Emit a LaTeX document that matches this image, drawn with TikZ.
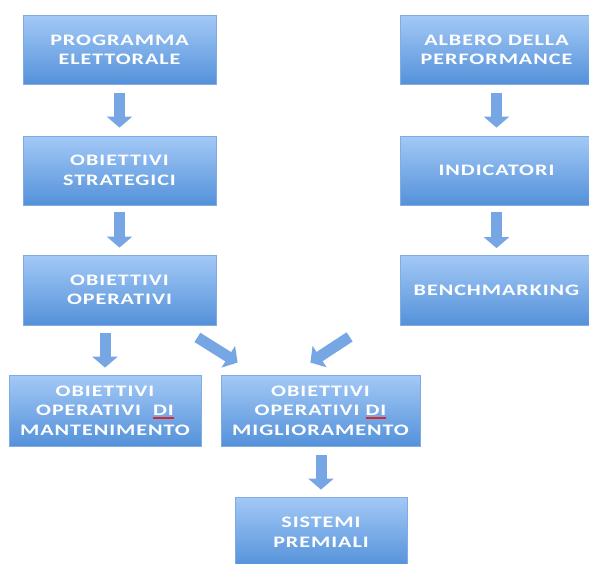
\documentclass[tikz,border=0pt]{standalone}
\usepackage{fontspec}
\newfontfamily\boxfont[FakeStretch=1.38,LetterSpace=6]{Carlito Bold}
\usetikzlibrary{arrows.meta,calc}
\definecolor{boxtop}{RGB}{163,201,246}
\definecolor{boxbot}{RGB}{84,145,218}
\definecolor{boxline}{RGB}{128,172,226}
\definecolor{arrfill}{RGB}{118,166,228}
\definecolor{squig}{RGB}{220,40,40}
\newcommand\redul[1]{\setbox0\hbox{#1}\rlap{\raisebox{-3pt}{\color{squig}\rule{\wd0}{1.2pt}}}\box0}
\tikzset{
  blkbox/.style={rectangle, draw=boxline, line width=0.8pt, top color=boxtop, bottom color=boxbot,
    minimum width=193pt, minimum height=69pt, inner sep=0pt, align=center, text=white,
    font=\boxfont\fontsize{16}{19.5}\selectfont},
  blkarrow/.style={draw=arrfill, line width=11pt,
    -{Triangle[width=25pt,length=11pt,fill=arrfill,color=arrfill]}}
}
\begin{document}
\begin{tikzpicture}[x=1pt,y=-1pt]
\useasboundingbox (0,0) rectangle (589,563);
\clip (0,0) rectangle (589,563);
\node[blkbox] (pe) at (119.5,50) {PROGRAMMA\\ELETTORALE};
\node[blkbox] (os) at (119.5,170.5) {OBIETTIVI\\STRATEGICI};
\node[blkbox, minimum height=70pt] (oo) at (119.5,290) {OBIETTIVI\\OPERATIVI};
\node[blkbox] (ab) at (496.5,50) {ALBERO DELLA\\PERFORMANCE};
\node[blkbox] (ind) at (496.5,170.5) {INDICATORI};
\node[blkbox, minimum height=70pt] (bm) at (496.5,290.5) {BENCHMARKING};
\node[blkbox, minimum width=192pt, minimum height=71pt] (mant) at (105,410.5) {OBIETTIVI\\OPERATIVI\ \ \redul{DI}\\MANTENIMENTO};
\node[blkbox, minimum width=199pt, minimum height=71pt] (mig) at (320.5,410.5) {OBIETTIVI\\OPERATIVI \redul{DI}\\MIGLIORAMENTO};
\node[blkbox, minimum width=172pt, minimum height=70pt] (sp) at (321,532) {SISTEMI\\PREMIALI};
\draw[blkarrow, shorten <=8pt, shorten >=8pt] (pe) -- (os);
\draw[blkarrow, shorten <=7pt, shorten >=7pt] (os) -- (oo);
\draw[blkarrow, shorten <=8pt, shorten >=8pt] (ab) -- (ind);
\draw[blkarrow, shorten <=7pt, shorten >=7pt] (ind) -- (bm);
\draw[blkarrow, shorten <=8pt, shorten >=7pt] (oo.south -| mant.north) -- (mant.north);
\draw[blkarrow, shorten <=9pt, shorten >=7pt] (mig.south -| sp.north) -- (sp.north);
\draw[blkarrow] ($(oo.south east)+(-19,12)$) -- ($(mig.north west)+(17,-12)$);
\draw[blkarrow] ($(bm.south west)+(-50,11)$) -- ($(mig.north east)+(-110,-12)$);
\end{tikzpicture}
\end{document}
